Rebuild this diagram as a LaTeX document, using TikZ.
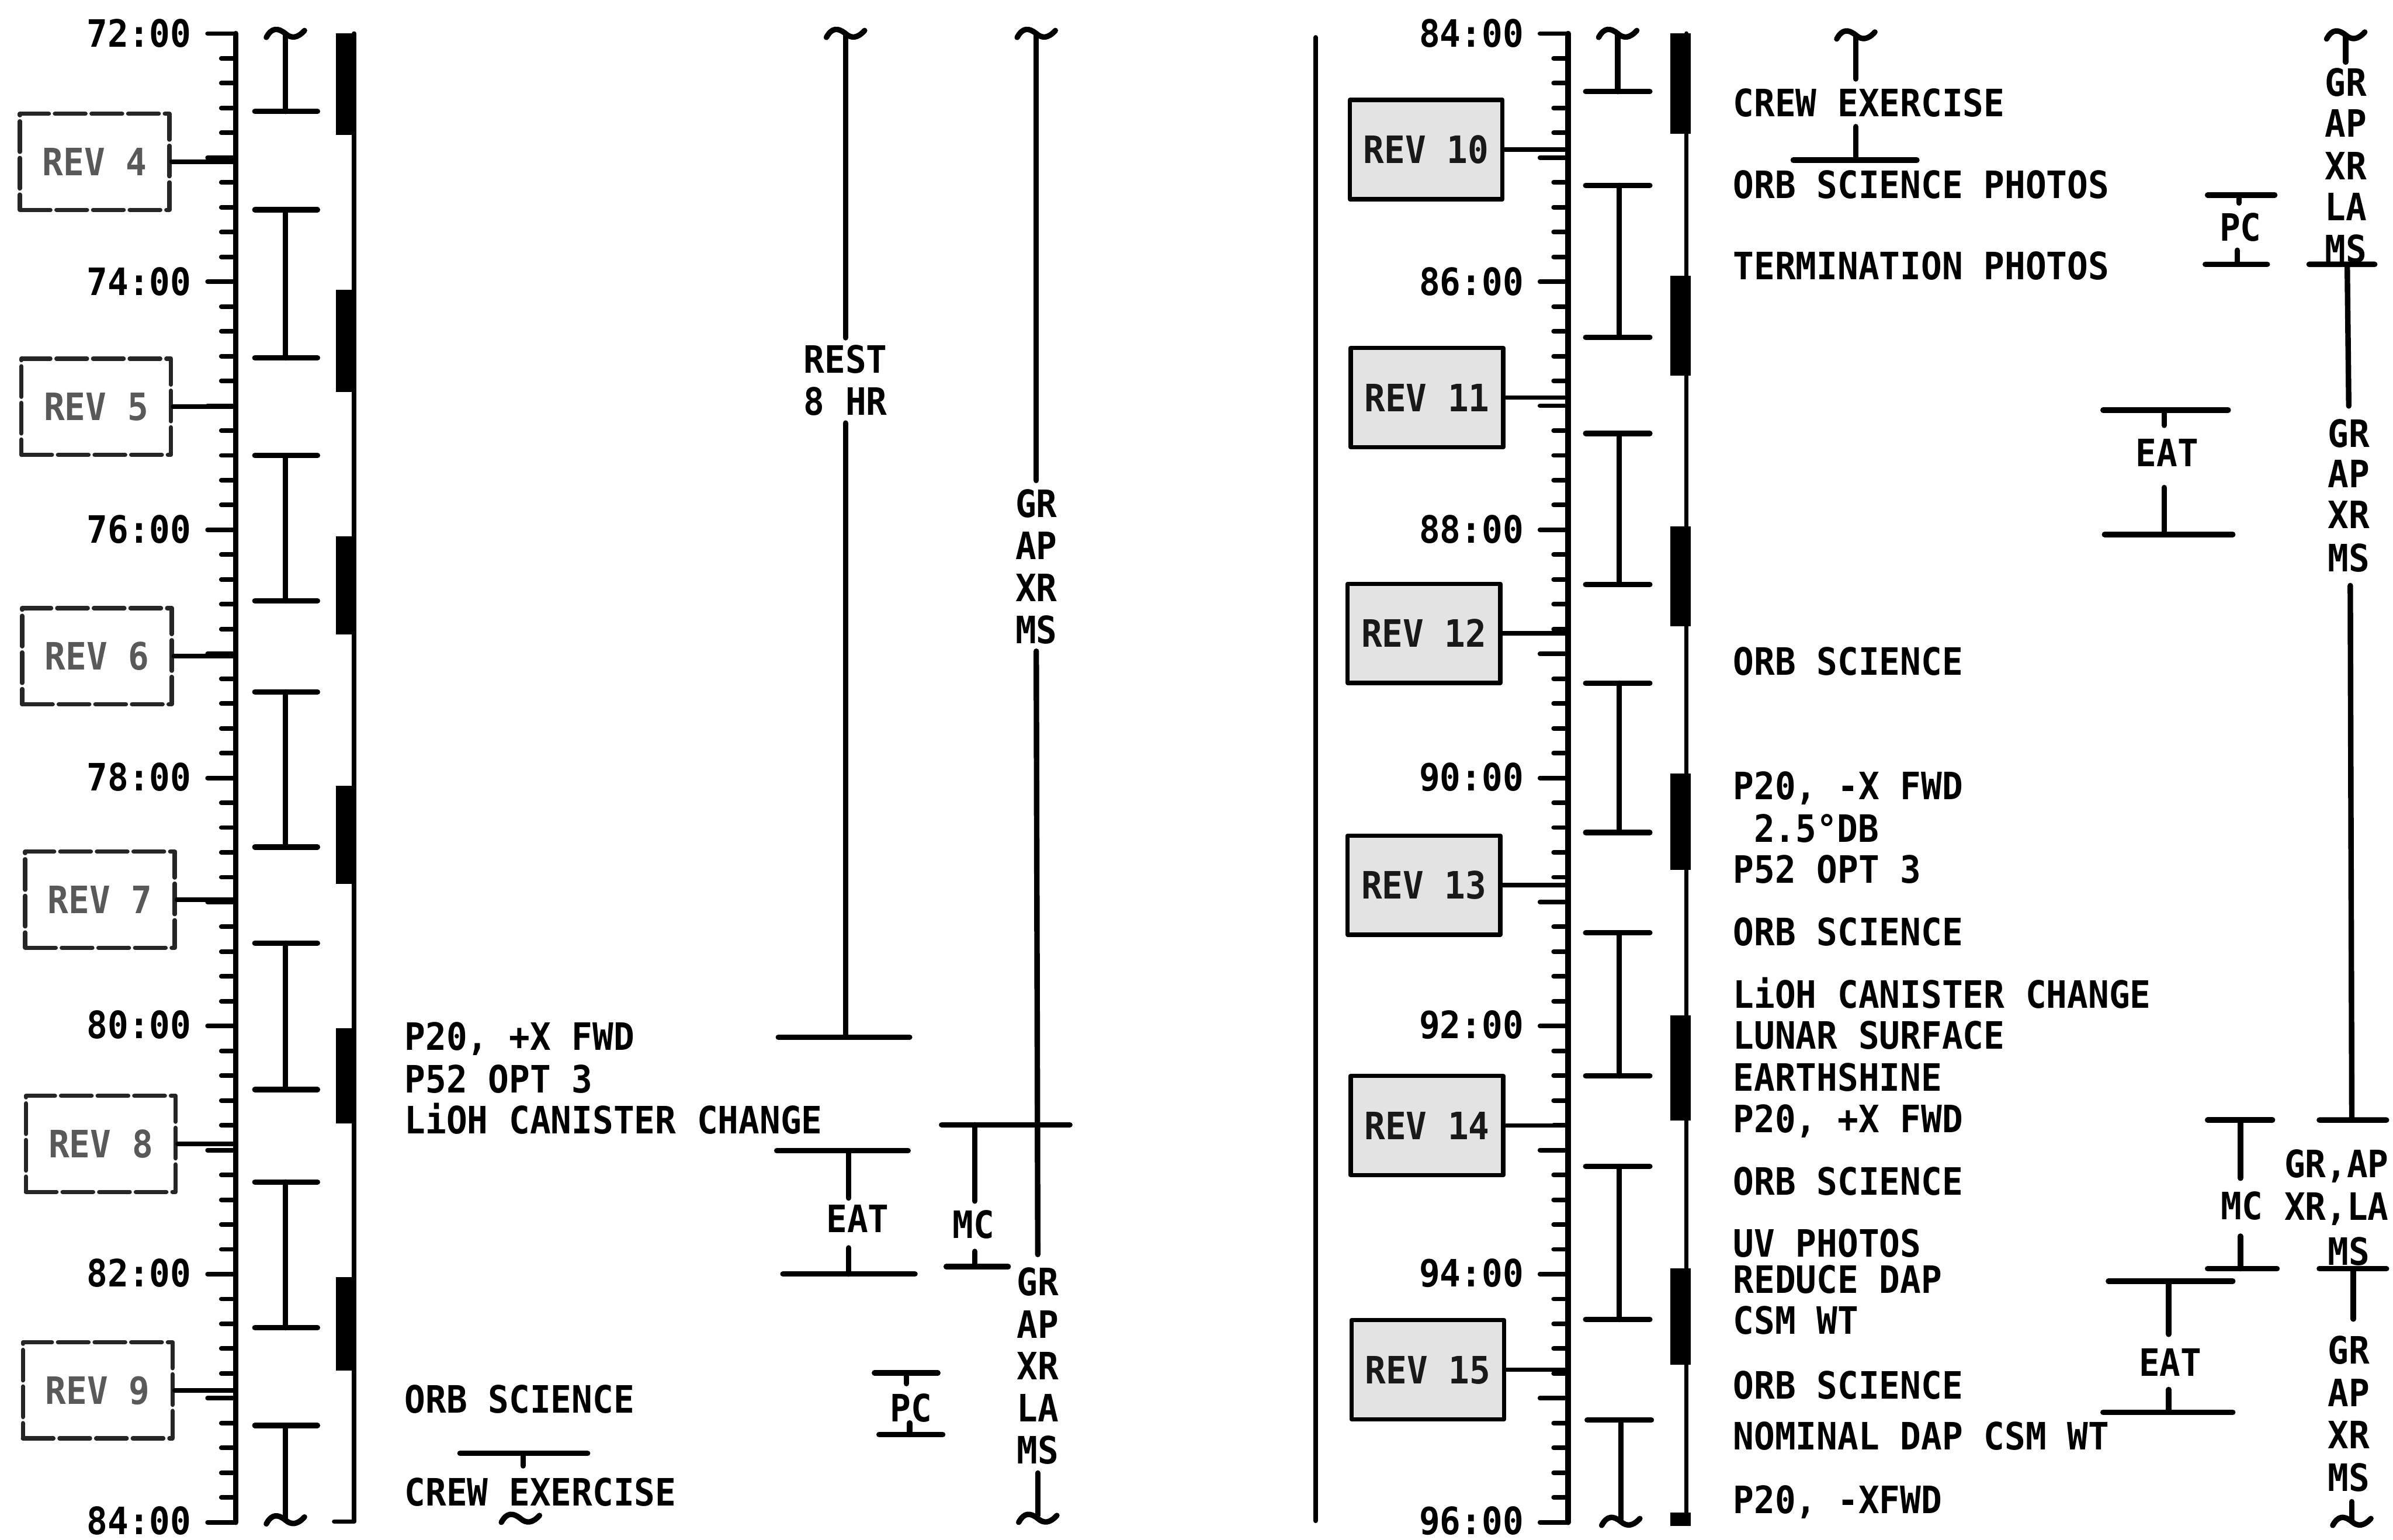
\documentclass[tikz,border=0pt]{standalone}
\usepackage{fontspec}
\setmonofont{DejaVu Sans Mono}[FakeStretch=0.92]
\usepackage{tikz}
\usetikzlibrary{calc,positioning}

\begin{document}
\begin{tikzpicture}[x=1pt, y=-1pt, line cap=round, line join=round,
  every node/.style={font=\ttfamily\bfseries\fontsize{24.7}{27}\selectfont,
    inner sep=0pt, text height=18pt, text depth=0pt},
  heavy/.style={line width=3.6pt},
  hrtick/.style={line width=3pt},
  conn/.style={line width=3pt},
  revold/.style={draw=black!85, line width=2.8pt,
    dash pattern=on 20pt off 4pt, fill=white, text=black!65,
    minimum width=98pt, minimum height=63pt},
  revnew/.style={draw=black, line width=2.8pt, fill=black!11,
    text=black!90, minimum width=100pt, minimum height=65pt},
  tld/.pic={\draw[line width=3.6pt] (-12.5,2.5) .. controls (-9,-4) and (-5,-4) .. (0,0)
      .. controls (4,3.5) and (8,3) .. (12.5,-2);}
]
\useasboundingbox (0,0) rectangle (1568,1009);

% ---------------------------------------------------------
% Key points
% ---------------------------------------------------------
\coordinate (axL) at (154.5,22);    % left time axis
\coordinate (axR) at (1027.5,22);   % right time axis

% ---------------------------------------------------------
% Time axes, ticks every 12 min, labels every 2 hr
% ---------------------------------------------------------
\foreach \ax/\hh in {154.5/72, 1027.5/84}{
  \draw[heavy] (\ax,22) -- (\ax,997.5);
  \foreach \k in {0,...,60}{
    \pgfmathsetmacro\yy{22+\k*16.258}
    \pgfmathsetmacro\len{mod(\k,5)==0 ? 18.5 : 9.5}
    \draw[hrtick] (\ax,\yy) -- ++(-\len,0);
  }
  \foreach \j in {0,...,6}{
    \pgfmathtruncatemacro\hr{\hh+2*\j}
    \node[anchor=east] (t\hr) at (\ax-29,22+\j*162.4) {\hr:00};
  }
}

% ---------------------------------------------------------
% Panel divider
% ---------------------------------------------------------
\draw[conn] (862,24.5) -- (862,996.5);

% ---------------------------------------------------------
% REV boxes
% ---------------------------------------------------------
\node[revold] (rev4) at (62,106)   {REV 4};
\node[revold] (rev5) at (63,266.5) {REV 5};
\node[revold] (rev6) at (63.5,430) {REV 6};
\node[revold] (rev7) at (65.5,589.5) {REV 7};
\node[revold] (rev8) at (66,749.5) {REV 8};
\node[revold] (rev9) at (64,911)   {REV 9};
\foreach \r in {4,...,9}
  \draw[conn] (rev\r.east) -- (rev\r.east -| axL);

\node[revnew] (rev10) at (934.5,98)    {REV 10};
\node[revnew] (rev11) at (935,260.5)   {REV 11};
\node[revnew] (rev12) at (933,415)     {REV 12};
\node[revnew] (rev13) at (933,580)     {REV 13};
\node[revnew] (rev14) at (935,737.5)   {REV 14};
\node[revnew] (rev15) at (935.5,897.5) {REV 15};
\foreach \r in {10,...,15}
  \draw[conn] (rev\r.east) -- (rev\r.east -| axR);

% ---------------------------------------------------------
% Rest/work brackets next to the axes
% ---------------------------------------------------------
\pic at (187,22) {tld};
\draw[heavy] (187,22) -- (187,73) (167,73) -- (208,73);
\foreach \a/\b in {137.5/234.5, 298.5/393.7, 453.4/555, 618/714, 774.5/870}
  \draw[heavy] (167,\a) -- (208,\a) (187,\a) -- (187,\b) (167,\b) -- (208,\b);
\draw[heavy] (167,934) -- (208,934) (187,934) -- (187,996);
\pic at (187,996) {tld};

\pic at (1060,22) {tld};
\draw[heavy] (1060,22) -- (1060,60) (1039,60) -- (1081,60);
\foreach \a/\b in {121.5/221, 284/383, 447.6/545.5, 611.2/705, 764.3/864.6}
  \draw[heavy] (1039,\a) -- (1081,\a) (1061,\a) -- (1061,\b) (1039,\b) -- (1081,\b);
\draw[heavy] (1040,930.5) -- (1082,930.5) (1062,930.5) -- (1062,997);
\pic at (1062,997) {tld};

% ---------------------------------------------------------
% Dark-side bars
% ---------------------------------------------------------
\draw[conn] (232,22) -- (232,997) -- (219,997);
\foreach \a/\b in {22/88.6, 190/257, 351.5/415.6, 515/579, 673.6/736, 836.7/898}
  \fill (220,\a) rectangle (233.5,\b);

\draw[conn] (1105,22) -- (1105,997);
\foreach \a/\b in {22/87.7, 180.5/246.3, 344.8/410.5, 506.7/570, 665.2/734.3, 831/894.3, 991/1000}
  \fill (1094.5,\a) rectangle (1108,\b);

% ---------------------------------------------------------
% Left panel: activity text
% ---------------------------------------------------------
\node[anchor=west] (l1) at (265,679)   {P20, +X FWD};
\node[anchor=west] (l2) at (265,707)   {P52 OPT 3};
\node[anchor=west] (l3) at (265,734)   {LiOH CANISTER CHANGE};
\node[anchor=west] (l4) at (265,917)   {ORB SCIENCE};
\node[anchor=west] (l5) at (265,977.5) {CREW EXERCISE};

% crew exercise start
\draw[heavy] (301.4,952.3) -- (385,952.3) (342.7,952.3) -- (342.7,960.5);
\pic at (341,995) {tld};

% rest period
\pic at (554,22) {tld};
\node (rest) at (554,235.5) {REST};
\node (eighthr) at (554,263) {8 HR};
\draw[heavy] (554,22) -- ([yshift=5pt]rest.north);
\draw[heavy] ([yshift=-5pt]eighthr.south) -- (554,679.6);
\draw[heavy] (510,679.6) -- (596,679.6);

% eat
\draw[heavy] (509,754) -- (595,754) (556,754) -- (556,785);
\node (eatL) at (562,798.4) {EAT};
\draw[heavy] (556,817.7) -- (556,834.8) (513,834.8) -- (599.5,834.8);

% mc
\draw[heavy] (617,737) -- (701,737) (638.7,737) -- (638.7,787);
\node (mcL) at (638,802.5) {MC};
\draw[heavy] (638.7,820) -- (638.7,830) (620,830) -- (660.6,830);

% pc
\draw[heavy] (573,899.6) -- (614.5,899.6) (594,899.6) -- (594,906.6);
\node (pcL) at (597,922.4) {PC};
\draw[heavy] (596,932.4) -- (596,940) (576,940) -- (617.7,940);

% experiment column
\pic at (679,22) {tld};
\node (grA) at (679,330)   {GR};
\node (apA) at (679,357.5) {AP};
\node (xrA) at (679,385)   {XR};
\node (msA) at (679,412.5) {MS};
\draw[heavy] (679,22) -- ([yshift=6pt]grA.north);
\draw[heavy] ([yshift=-5pt]msA.south) -- (680,822);
\node (grB) at (680,840)   {GR};
\node (apB) at (680,868)   {AP};
\node (xrB) at (680,895)   {XR};
\node (laB) at (680,922.5) {LA};
\node (msB) at (680,950)   {MS};
\draw[heavy] ([yshift=-6pt]msB.south) -- (680,993);
\pic at (680,995) {tld};

% ---------------------------------------------------------
% Right panel: activity text
% ---------------------------------------------------------
\node[anchor=west] (r1)  at (1135.5,67.5)  {CREW EXERCISE};
\node[anchor=west] (r2)  at (1135.5,121)   {ORB SCIENCE PHOTOS};
\node[anchor=west] (r3)  at (1135.5,174)   {TERMINATION PHOTOS};
\node[anchor=west] (r4)  at (1135.5,433.5) {ORB SCIENCE};
\node[anchor=west] (r5)  at (1135.5,515)   {P20, -X FWD};
\node[anchor=west] (r6)  at (1149,543)     {2.5°DB};
\node[anchor=west] (r7)  at (1135.5,569.5) {P52 OPT 3};
\node[anchor=west] (r8)  at (1135.5,610.5) {ORB SCIENCE};
\node[anchor=west] (r9)  at (1135.5,651.5) {LiOH CANISTER CHANGE};
\node[anchor=west] (r10) at (1135.5,678.5) {LUNAR SURFACE};
\node[anchor=west] (r11) at (1135.5,706)   {EARTHSHINE};
\node[anchor=west] (r12) at (1135.5,733)   {P20, +X FWD};
\node[anchor=west] (r13) at (1135.5,774)   {ORB SCIENCE};
\node[anchor=west] (r14) at (1135.5,814.5) {UV PHOTOS};
\node[anchor=west] (r15) at (1135.5,838.5) {REDUCE DAP};
\node[anchor=west] (r16) at (1135.5,865)   {CSM WT};
\node[anchor=west] (r17) at (1135.5,907.5) {ORB SCIENCE};
\node[anchor=west] (r18) at (1135.5,941)   {NOMINAL DAP CSM WT};
\node[anchor=west] (r19) at (1135.5,982.5) {P20, -XFWD};

% crew exercise end
\pic at (1216,23) {tld};
\draw[heavy] (1216,23) -- (1216,51.7);
\draw[heavy] (1216,83) -- (1216,104.9) (1175,104.9) -- (1256,104.9);

% pc
\draw[heavy] (1446.5,127.8) -- (1490.5,127.8) (1467,127.8) -- (1467,133);
\node (pcR) at (1468,148.8) {PC};
\draw[heavy] (1466,164) -- (1466,173.2) (1445,173.2) -- (1485.6,173.2);

% eat
\draw[heavy] (1378,268.7) -- (1460,268.7) (1418,268.7) -- (1418,278.7);
\node (eatR1) at (1420,296.7) {EAT};
\draw[heavy] (1418,319.5) -- (1418,350.2) (1379,350.2) -- (1463,350.2);

% mc
\draw[heavy] (1446.5,733.9) -- (1489,733.9) (1468,733.9) -- (1468,772);
\node (mcR) at (1469,790) {MC};
\draw[heavy] (1468,810) -- (1468,831.3) (1446.5,831.3) -- (1492,831.3);

% eat
\draw[heavy] (1381.5,839.5) -- (1463,839.5) (1421,839.5) -- (1421,874.3);
\node (eatR2) at (1422,892.8) {EAT};
\draw[heavy] (1421,910.5) -- (1421,925.4) (1378,925.4) -- (1463,925.4);

% experiment column
\pic at (1537,23) {tld};
\draw[heavy] (1537,23) -- (1537,40.7);
\node (grC) at (1537,54)    {GR};
\node (apC) at (1537,80.7)  {AP};
\node (xrC) at (1537,108.8) {XR};
\node (laC) at (1537,135.5) {LA};
\node (msC) at (1537,162.9) {MS};
\draw[heavy] (1513,173.2) -- (1556,173.2) (1538,173.2) -- (1539,266);
\node (grD) at (1539,284)   {GR};
\node (apD) at (1539,310.6) {AP};
\node (xrD) at (1539,337.3) {XR};
\node (msD) at (1539,365.4) {MS};
\draw[heavy] (1540,383.7) -- (1541,733.9) (1519.7,733.9) -- (1563.7,733.9);
\node (gaE) at (1531,762.6) {GR,AP};
\node (xlE) at (1531,790.6) {XR,LA};
\node (msE) at (1539,820)   {MS};
\draw[heavy] (1519.7,831.3) -- (1563.7,831.3) (1542,831.3) -- (1542,864.3);
\node (grF) at (1539,884.5) {GR};
\node (apF) at (1539,912.7) {AP};
\node (xrF) at (1539,940)   {XR};
\node (msF) at (1539,968)   {MS};
\draw[heavy] (1541,984) -- (1541,996);
\pic at (1541,997) {tld};

\end{tikzpicture}
\end{document}
